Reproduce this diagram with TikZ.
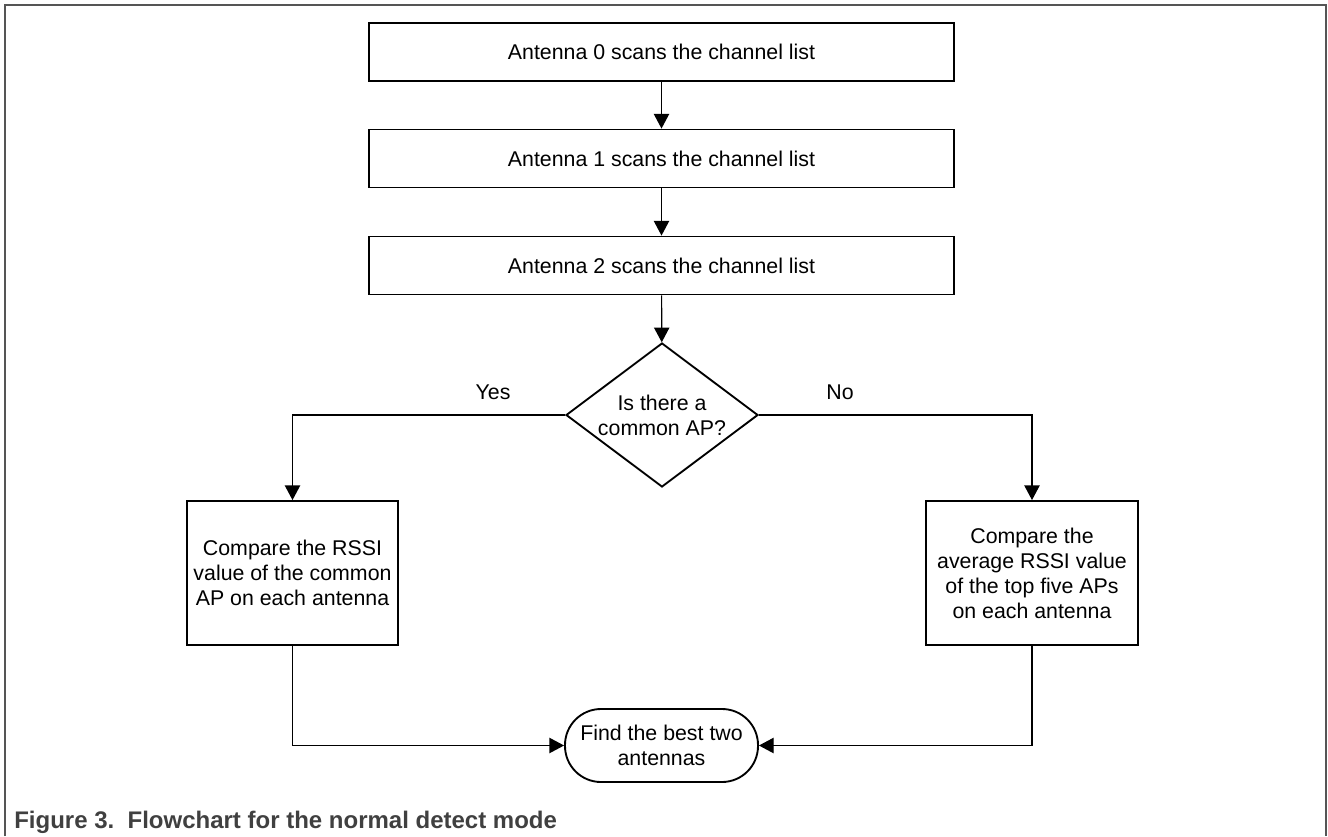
\documentclass[tikz,border=0pt]{standalone}
\usepackage{fontspec}
\setmainfont{Liberation Sans}
\usetikzlibrary{shapes.geometric,arrows.meta}
\definecolor{framegray}{HTML}{555555}
\definecolor{captiongray}{HTML}{404040}

\begin{document}
\begin{tikzpicture}[x=0.75pt,y=-0.75pt,
      font=\fontsize{16}{18.75}\selectfont,
      stepbox/.style={draw,line width=1.4pt,minimum width=438.75pt,minimum height=43.5pt,inner sep=0pt},
      tallbox/.style={draw,line width=1.4pt,minimum width=158.5pt,minimum height=108pt,inner sep=0pt,align=center},
      decision/.style={draw,diamond,aspect=1.333,line width=1.4pt,minimum width=144pt,minimum height=108pt,inner sep=0pt,align=center},
      terminal/.style={draw,rounded corners=27pt,line width=1.4pt,minimum width=144.75pt,minimum height=54.75pt,inner sep=0pt,align=center},
      flow/.style={line width=0.9pt,-{Triangle[length=11pt,width=11.5pt]}},
      line/.style={line width=0.9pt}]
      \useasboundingbox (0,0) rectangle (1328,836);
      \draw[framegray,line width=1pt] (5,836) -- (5,5) -- (1326,5) -- (1326,836);

\node[stepbox] (scan0) at (661.5,52) {Antenna 0 scans the channel list};
\node[stepbox] (scan1) at (661.5,158.5) {Antenna 1 scans the channel list};
\node[stepbox] (scan2) at (661.5,265.5) {Antenna 2 scans the channel list};
\node[decision] (common) at (662,415) {Is there a\\common AP?};
\node[tallbox] (cmpcommon) at (292.5,573) {Compare the RSSI\\value of the common\\AP on each antenna};
\node[tallbox] (cmptop) at (1032,573) {Compare the\\average RSSI value\\of the top five APs\\on each antenna};
\node[terminal] (best) at (661.5,745.5) {Find the best two\\antennas};
\node (yes) at (493,392) {Yes};
\node (no) at (840,392) {No};

\draw[flow] (scan0) -- (scan1);
\draw[flow] (scan1) -- (scan2);
\draw[flow] (scan2) -- (common);
\draw[flow] (common.west) -| (cmpcommon.north);
\draw[flow] (common.east) -| (cmptop.north);
\draw[flow] (cmpcommon.south) |- (best.west);
\draw[flow] (cmptop.south) |- (best.east);

%caption
\node[anchor=base west,inner sep=0pt,text=captiongray,font=\fontsize{18}{21}\selectfont\bfseries] (caption) at (14,828) {Figure 3.\ \ Flowchart for the normal detect mode};
\end{tikzpicture}
\end{document}
